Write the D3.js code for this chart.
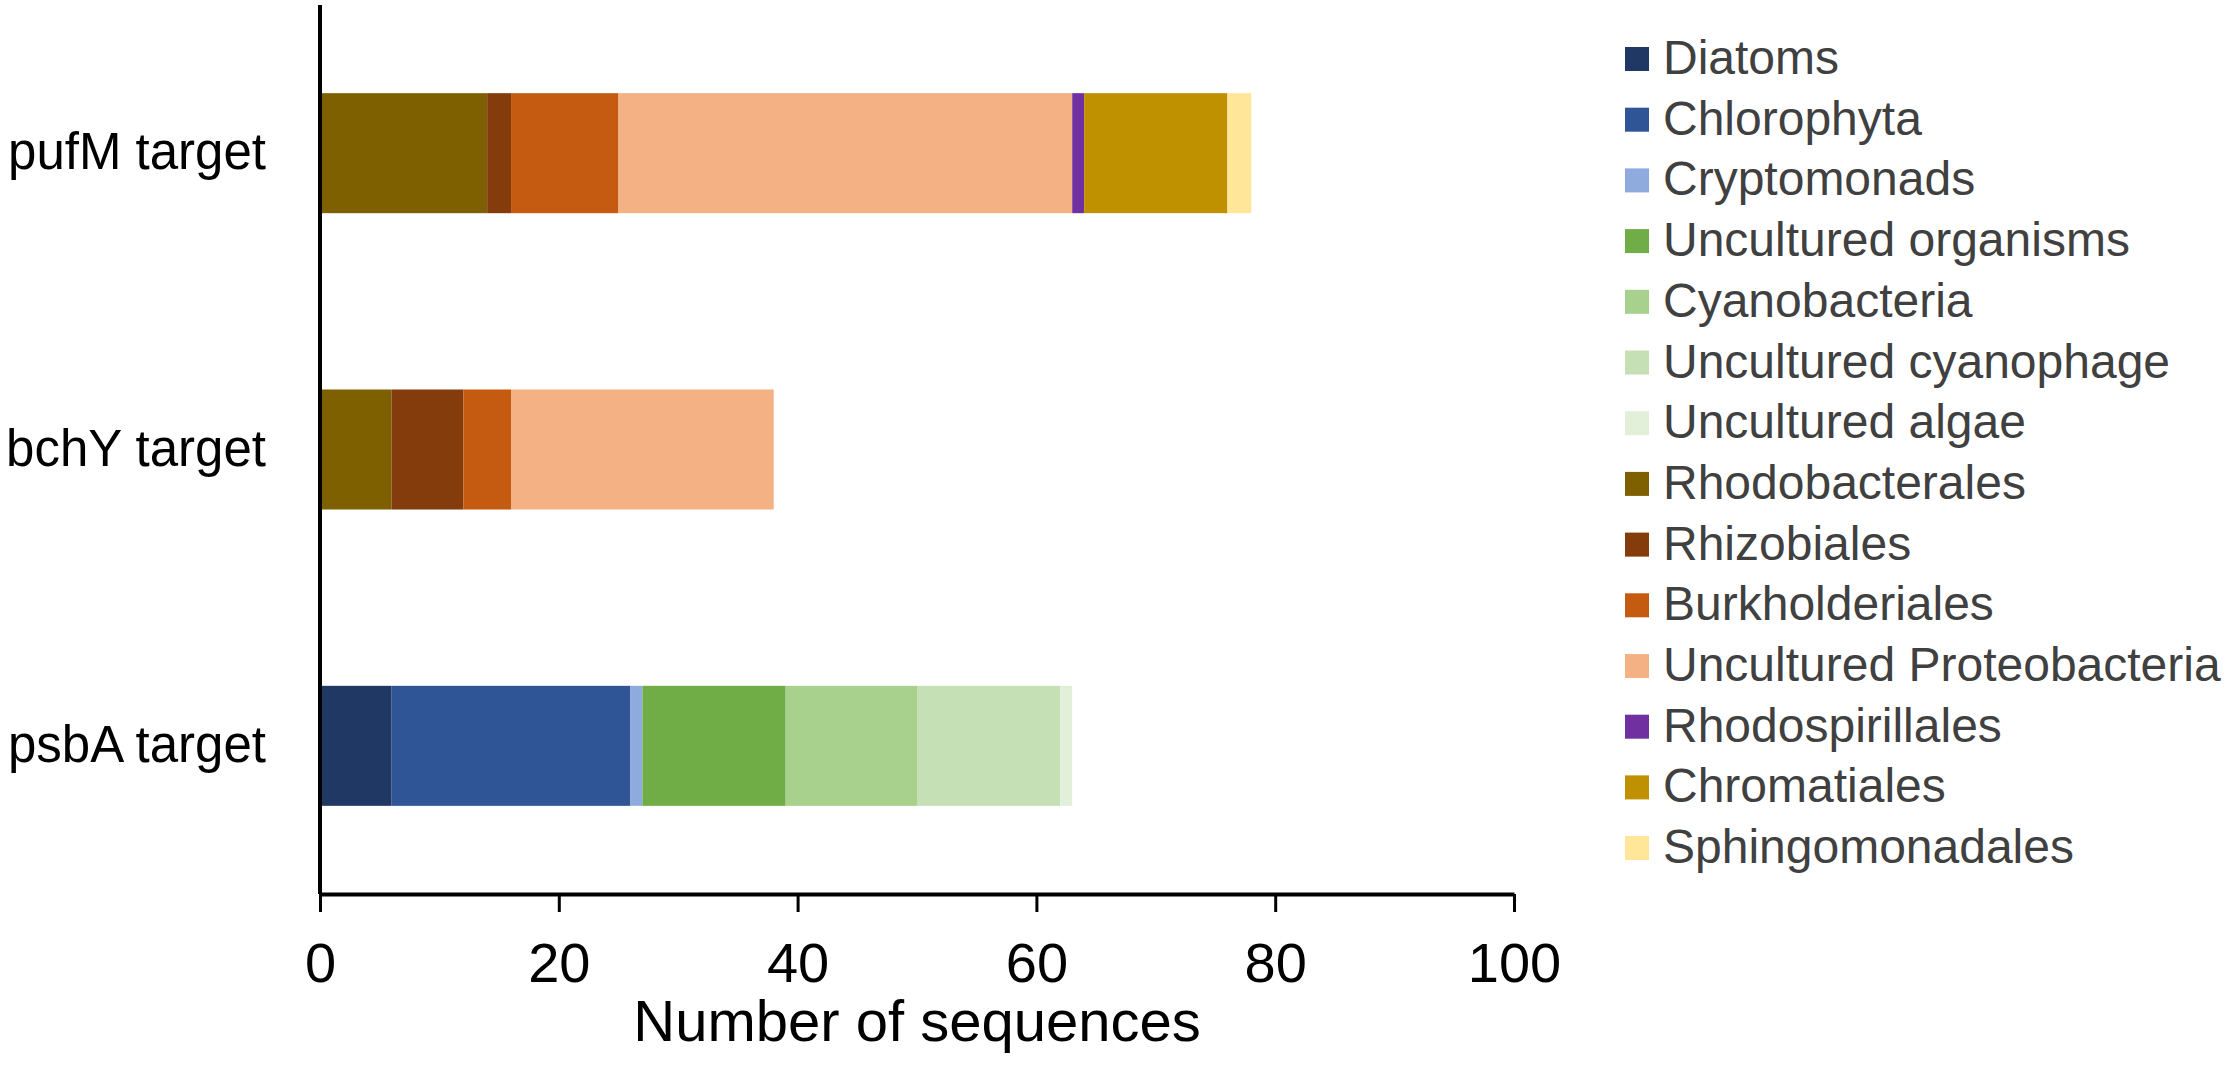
<!DOCTYPE html>
<html lang="en">
<head>
<meta charset="utf-8">
<title>Number of sequences per target gene</title>
<script src="https://d3js.org/d3.v7.min.js"></script>
<style>
  html, body { margin: 0; padding: 0; background: #fff; }
  svg { display: block; }
</style>
</head>
<body>
<script>
// categories (top to bottom)
var categories = ["pufM target", "bchY target", "psbA target"];

// series in stacking / legend order
var seriesNames = ["Diatoms", "Chlorophyta", "Cryptomonads", "Uncultured organisms",
  "Cyanobacteria", "Uncultured cyanophage", "Uncultured algae", "Rhodobacterales",
  "Rhizobiales", "Burkholderiales", "Uncultured Proteobacteria", "Rhodospirillales",
  "Chromatiales", "Sphingomonadales"];

var seriesColors = ["#203864", "#2f5597", "#8faadc", "#70ad47", "#a9d18e", "#c5e0b4",
  "#e2f0d9", "#7f6000", "#843c0c", "#c55a11", "#f4b183", "#7030a0", "#bf9000", "#ffe699"];

// values per category, same order as seriesNames
var pufMValues = [0, 0, 0, 0, 0, 0, 0, 14, 2, 9, 38, 1, 12, 2];
var bchYValues = [0, 0, 0, 0, 0, 0, 0, 6, 6, 4, 22, 0, 0, 0];
var psbAValues = [6, 20, 1, 12, 11, 12, 1, 0, 0, 0, 0, 0, 0, 0];

var xTicks = [0, 20, 40, 60, 80, 100];

var w = 2228, h = 1083;
// note: "top" is a read-only window property, so use plot* names
var plotLeft = 320, plotRight = 1514, plotTop = 5, plotBottom = 894;
var font = "'Liberation Sans', Arial, Helvetica, sans-serif";

var valuesByCat = [pufMValues, bchYValues, psbAValues];
var table = categories.map(function(c, i) {
  var row = { category: c };
  seriesNames.forEach(function(s, j) { row[s] = valuesByCat[i][j]; });
  return row;
});

var stacked = d3.stack().keys(seriesNames)(table);

var svg = d3.select("body").append("svg")
  .attr("width", w)
  .attr("height", h);

var x = d3.scaleLinear().domain([0, 100]).range([plotLeft, plotRight]);
var y = d3.scaleBand().domain(categories).range([plotTop, plotBottom])
  .paddingInner(0.595).paddingOuter(0.2975);
var color = d3.scaleOrdinal().domain(seriesNames).range(seriesColors);

// bars
svg.append("g").selectAll("g")
  .data(stacked)
  .enter().append("g")
  .attr("fill", function(d) { return color(d.key); })
  .selectAll("rect")
  .data(function(d) { return d; })
  .enter().append("rect")
  .attr("x", function(d) { return x(d[0]); })
  .attr("y", function(d) { return y(d.data.category); })
  .attr("width", function(d) { return x(d[1]) - x(d[0]); })
  .attr("height", y.bandwidth());

// x axis
var xAxis = svg.append("g")
  .attr("transform", "translate(0," + plotBottom + ")")
  .call(d3.axisBottom(x).tickValues(xTicks).tickSize(18).tickPadding(30).tickSizeOuter(0));
xAxis.select(".domain").attr("stroke", "#000").attr("stroke-width", 4);
xAxis.selectAll(".tick line").attr("stroke", "#000").attr("stroke-width", 3);
xAxis.selectAll(".tick text")
  .attr("font-family", font)
  .attr("font-size", "56px")
  .attr("fill", "#000");

// y axis
var yAxis = svg.append("g")
  .attr("transform", "translate(" + plotLeft + ",0)")
  .call(d3.axisLeft(y).tickSize(0).tickPadding(54));
yAxis.select(".domain").attr("stroke", "#000").attr("stroke-width", 4)
  .attr("d", "M0," + plotTop + "V" + plotBottom);
yAxis.selectAll(".tick text")
  .attr("font-family", font)
  .attr("font-size", "51px")
  .attr("fill", "#000");

// axis title
svg.append("text")
  .attr("x", (plotLeft + plotRight) / 2)
  .attr("y", 1041)
  .attr("text-anchor", "middle")
  .attr("font-family", font)
  .attr("font-size", "58px")
  .attr("fill", "#000")
  .text("Number of sequences");

// legend
var legend = svg.append("g").attr("transform", "translate(1625,59)");
var item = legend.selectAll("g")
  .data(seriesNames)
  .enter().append("g")
  .attr("transform", function(d, i) { return "translate(0," + (i * 60.7) + ")"; });
item.append("rect")
  .attr("x", 0)
  .attr("y", -12)
  .attr("width", 24)
  .attr("height", 24)
  .attr("fill", function(d) { return color(d); });
item.append("text")
  .attr("x", 38)
  .attr("y", 15)
  .attr("font-family", font)
  .attr("font-size", "48px")
  .attr("fill", "#404040")
  .text(function(d) { return d; });
</script>
</body>
</html>
